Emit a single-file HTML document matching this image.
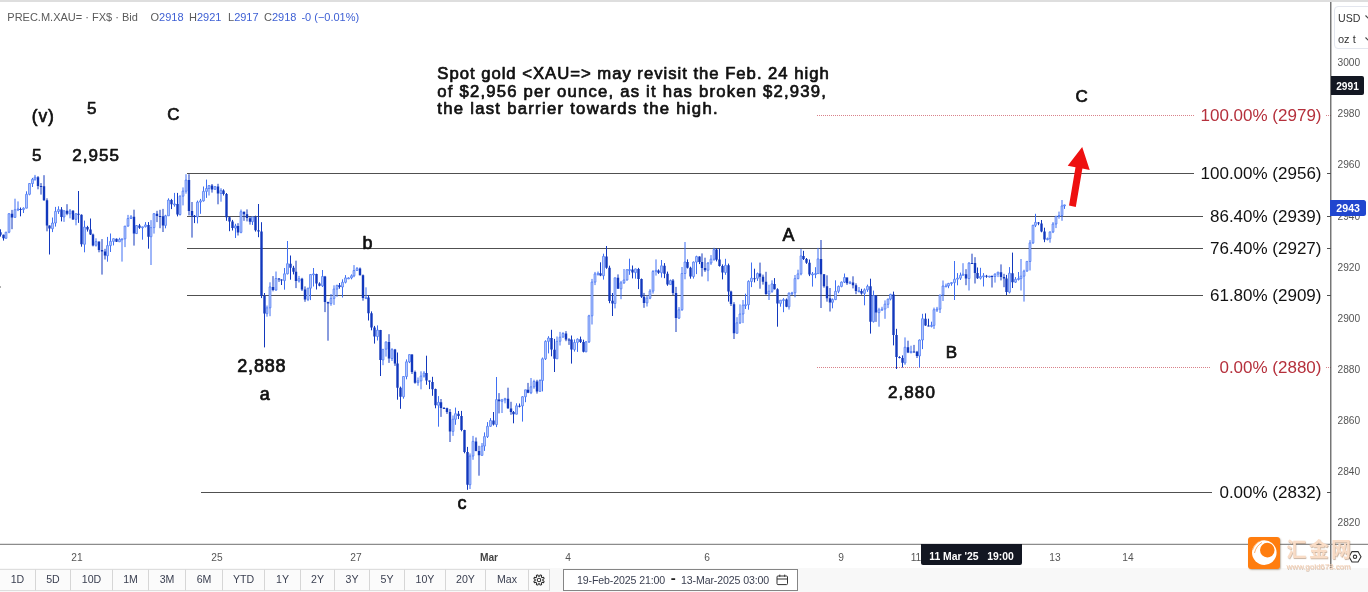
<!DOCTYPE html>
<html><head><meta charset="utf-8"><title>Spot gold chart</title>
<style>
html,body{margin:0;padding:0;background:#fff;}
body{width:1368px;height:592px;position:relative;overflow:hidden;font-family:"Liberation Sans", "DejaVu Sans", sans-serif;}
.abs{position:absolute;white-space:nowrap;}
#topbar{left:0;top:0;width:1368px;height:2px;background:#dedede;}
.hd{top:10px;font-size:11px;color:#5a5a5a;line-height:14px;}
.hd b{font-weight:normal;color:#3d5fd4;}
.fib{font-size:17px;color:#111;line-height:22px;text-align:right;right:46.5px;}
.fib.red{color:#b5303c;}
.px{font-size:10.2px;color:#555;left:1337.5px;line-height:14px;}
.tx{top:550.7px;font-size:10.2px;color:#555;line-height:14px;transform:translateX(-50%);}
#bbar{left:0;top:568px;width:1368px;height:24px;background:#f8f8f8;}
.btn{top:569px;height:22px;line-height:18.8px;font-size:10.6px;color:#3c4152;text-align:center;border-right:1px solid #d6d6d6;border-top:1px solid #dedede;border-bottom:1px solid #dedede;background:#fbfbfb;box-sizing:border-box;}
</style></head><body>
<div class="abs" id="topbar"></div>
<div class="abs" style="left:0;top:286px;width:1px;height:2px;background:#b0b0b0;"></div>
<div class="abs hd" style="left:7.3px;">PREC.M.XAU= · FX$ · Bid</div>
<div class="abs hd" style="left:150.5px;">O<b>2918</b></div>
<div class="abs hd" style="left:189px;">H<b>2921</b></div>
<div class="abs hd" style="left:228px;">L<b>2917</b></div>
<div class="abs hd" style="left:264px;">C<b>2918</b></div>
<div class="abs hd" style="left:301.4px;"><b>-0 (−0.01%)</b></div>

<svg class="abs" style="left:0;top:0" width="1368" height="592" viewBox="0 0 1368 592">
<line x1="187" y1="173.5" x2="1194" y2="173.5" stroke="#505050" stroke-width="1"/><line x1="187" y1="216.5" x2="1203" y2="216.5" stroke="#505050" stroke-width="1"/><line x1="187" y1="248.5" x2="1203" y2="248.5" stroke="#505050" stroke-width="1"/><line x1="187" y1="295.5" x2="1203" y2="295.5" stroke="#505050" stroke-width="1"/><line x1="201" y1="492.5" x2="1212" y2="492.5" stroke="#505050" stroke-width="1"/><line x1="817" y1="115.5" x2="1194" y2="115.5" stroke="#d9828a" stroke-width="1" stroke-dasharray="1 1"/><line x1="817" y1="367.5" x2="1211" y2="367.5" stroke="#d9828a" stroke-width="1" stroke-dasharray="1 1"/><line x1="1327" y1="173.5" x2="1331" y2="173.5" stroke="#505050" stroke-width="1"/><line x1="1327" y1="216.5" x2="1331" y2="216.5" stroke="#505050" stroke-width="1"/><line x1="1327" y1="248.5" x2="1331" y2="248.5" stroke="#505050" stroke-width="1"/><line x1="1327" y1="295.5" x2="1331" y2="295.5" stroke="#505050" stroke-width="1"/><line x1="1327" y1="492.5" x2="1331" y2="492.5" stroke="#505050" stroke-width="1"/><line x1="1326" y1="115.5" x2="1331" y2="115.5" stroke="#d9828a" stroke-width="1" stroke-dasharray="1 1"/><line x1="1326" y1="367.5" x2="1331" y2="367.5" stroke="#d9828a" stroke-width="1" stroke-dasharray="1 1"/><path d="M6.0 231.9V232.2M6.0 238.3V238.7M9.0 213.2V213.7M9.0 232.2V233.2M15.0 198.7V209.7M15.0 217.4V217.6M18.0 201.4V208.9M18.0 209.7V211.1M23.5 207.4V208.2M23.5 209.6V213.0M26.5 191.3V194.3M26.5 208.2V208.4M29.5 183.3V183.5M29.5 194.3V195.3M32.5 177.9V179.3M32.5 183.5V187.0M35.0 174.9V177.2M35.0 179.3V180.7M52.5 217.5V223.0M52.5 228.7V232.1M55.5 206.9V211.4M55.5 223.0V226.6M58.5 206.3V209.6M58.5 211.4V213.9M64.0 210.5V210.7M64.0 217.1V221.9M70.0 209.0V210.8M70.0 213.9V218.3M76.0 213.4V213.7M76.0 219.4V225.3M84.5 220.6V227.1M84.5 244.3V252.3M96.0 238.3V241.6M96.0 245.4V246.6M107.5 236.9V245.6M107.5 255.6V261.7M110.5 233.5V241.4M110.5 245.6V252.0M113.5 238.3V238.7M113.5 241.4V245.4M119.5 237.8V239.4M119.5 241.8V242.0M122.0 238.8V238.8M122.0 239.4V261.6M125.0 226.0V226.1M125.0 238.8V247.1M128.0 214.9V218.5M128.0 226.1V226.7M131.0 215.1V216.8M131.0 218.5V219.0M136.5 225.2V225.5M136.5 233.6V234.0M142.5 226.7V226.8M142.5 227.7V239.7M145.5 222.1V224.9M145.5 226.8V227.4M151.0 220.1V227.6M151.0 236.7V265.0M154.0 213.0V213.7M154.0 227.6V233.6M165.5 214.8V215.8M165.5 225.4V228.3M168.5 198.3V200.0M168.5 215.8V215.9M174.5 192.9V203.9M174.5 204.3V206.7M180.0 195.3V196.2M180.0 214.5V215.6M183.0 187.4V191.1M183.0 196.2V205.4M186.0 174.2V180.1M186.0 191.1V193.7M197.5 200.6V202.1M197.5 216.9V223.4M200.5 198.9V200.8M200.5 202.1V213.8M203.5 186.5V191.4M203.5 200.8V201.6M206.5 179.6V188.5M206.5 191.4V197.9M209.0 185.0V185.6M209.0 188.5V195.5M215.0 186.1V186.6M215.0 189.5V189.5M221.0 188.2V190.4M221.0 193.5V201.7M235.5 223.8V225.9M235.5 228.0V238.0M241.0 209.5V211.7M241.0 232.5V233.3M252.5 216.4V216.8M252.5 221.7V225.0M267.0 305.5V307.8M267.0 313.7V316.7M270.0 282.3V286.9M270.0 307.8V316.2M276.0 271.5V278.5M276.0 290.1V290.7M284.5 268.0V273.8M284.5 280.6V289.7M287.5 241.0V263.7M287.5 273.8V274.4M299.0 275.9V278.7M299.0 280.9V282.6M308.0 288.1V288.1M308.0 299.5V301.1M310.5 274.2V274.5M310.5 288.1V300.1M313.5 268.0V273.9M313.5 274.5V286.5M322.5 270.0V276.5M322.5 285.8V287.0M331.0 294.0V298.4M331.0 303.6V305.8M334.0 285.3V289.1M334.0 298.4V304.9M337.0 284.9V285.3M337.0 289.1V296.8M342.5 279.3V282.3M342.5 287.0V297.5M345.5 275.1V277.9M345.5 282.3V283.4M348.5 277.4V277.9M348.5 277.9V278.6M351.5 274.4V275.8M351.5 277.9V279.3M354.0 265.1V270.5M354.0 275.8V277.2M357.0 267.0V268.6M357.0 270.5V270.6M366.0 287.3V297.6M366.0 298.1V298.5M377.5 325.4V330.1M377.5 336.4V340.5M383.0 349.0V349.3M383.0 359.8V365.2M386.0 341.6V341.9M386.0 349.3V356.6M392.0 348.2V349.6M392.0 358.5V361.0M403.5 376.5V376.5M403.5 396.8V398.7M406.5 359.4V361.8M406.5 376.5V379.3M409.5 354.5V354.6M409.5 361.8V363.1M418.0 377.5V380.8M418.0 382.7V385.7M421.0 371.3V376.1M421.0 380.8V389.3M424.0 371.2V373.1M424.0 376.1V377.6M438.5 396.1V402.3M438.5 405.4V426.7M453.0 415.5V419.3M453.0 431.4V435.9M455.5 407.6V413.7M455.5 419.3V424.8M470.0 453.4V456.0M470.0 484.6V489.0M473.0 435.9V441.4M473.0 456.0V459.8M482.0 443.0V446.2M482.0 455.4V455.4M484.5 432.4V436.6M484.5 446.2V450.9M487.5 422.1V426.3M487.5 436.6V438.0M490.5 418.1V420.5M490.5 426.3V426.8M496.5 377.0V399.6M496.5 424.7V427.1M502.0 398.9V399.8M502.0 401.4V413.0M505.0 397.8V398.7M505.0 399.8V403.3M516.5 403.3V405.8M516.5 414.2V414.3M522.5 396.1V396.7M522.5 405.9V421.6M525.5 389.8V389.8M525.5 396.7V402.2M531.0 378.0V386.8M531.0 392.7V394.1M534.0 379.7V381.5M534.0 386.8V388.8M540.0 379.3V380.5M540.0 391.4V391.6M542.5 357.5V358.8M542.5 380.5V391.4M545.5 340.3V341.4M545.5 358.8V360.0M548.5 336.2V338.0M548.5 341.4V353.4M557.0 336.5V341.4M557.0 358.7V358.9M560.0 331.9V337.2M560.0 341.4V345.5M563.0 332.2V333.5M563.0 337.2V337.4M574.5 339.4V342.5M574.5 349.6V351.6M577.5 338.4V339.2M577.5 342.5V351.9M586.0 341.0V341.8M586.0 351.8V352.2M589.0 314.8V315.8M589.0 341.8V343.0M592.0 278.9V282.1M592.0 315.8V324.5M595.0 271.9V273.9M595.0 282.1V285.1M598.0 271.5V273.3M598.0 273.9V275.6M603.5 253.7V256.4M603.5 275.6V279.6M615.0 277.7V277.8M615.0 303.5V308.4M621.0 280.9V282.8M621.0 288.7V299.2M624.0 269.0V280.0M624.0 282.8V283.9M627.0 269.2V269.7M627.0 280.0V280.6M629.5 258.7V269.5M629.5 269.7V274.8M635.5 268.7V268.9M635.5 272.6V278.7M647.0 295.3V298.1M647.0 303.0V306.5M650.0 289.2V291.1M650.0 298.1V299.2M653.0 270.1V271.5M653.0 291.1V293.6M656.0 259.4V270.4M656.0 271.5V275.6M661.5 260.0V265.8M661.5 272.7V277.6M670.5 279.6V280.6M670.5 284.6V284.7M679.0 307.1V309.8M679.0 318.1V319.0M682.0 267.0V273.5M682.0 309.8V310.8M685.0 242.0V262.0M685.0 273.5V279.3M693.5 261.5V262.1M693.5 276.6V278.6M696.5 255.7V256.6M696.5 262.1V274.1M708.0 262.2V263.0M708.0 270.3V281.3M711.0 255.1V259.2M711.0 263.0V264.9M714.0 247.8V249.6M714.0 259.2V260.8M725.5 258.8V265.3M725.5 272.5V274.8M737.0 317.2V322.8M737.0 333.3V333.4M740.0 304.4V314.0M740.0 322.8V324.0M743.0 300.0V305.2M743.0 314.0V323.1M745.5 293.7V304.7M745.5 305.2V309.0M748.5 280.3V281.4M748.5 304.7V309.7M751.5 262.5V278.2M751.5 281.4V287.1M757.5 272.6V273.6M757.5 278.3V280.9M769.0 284.7V291.2M769.0 294.1V300.0M772.0 280.3V283.9M772.0 291.2V292.8M780.5 300.1V300.2M780.5 303.5V306.7M783.5 298.1V299.6M783.5 300.2V312.2M789.0 292.7V293.0M789.0 306.9V309.6M792.0 291.8V292.8M792.0 293.0V295.2M795.0 275.0V278.6M795.0 292.8V297.3M798.0 269.7V273.9M798.0 278.6V279.2M801.0 248.9V255.9M801.0 273.9V275.3M812.5 272.0V273.9M812.5 274.6V286.6M815.5 267.2V273.5M815.5 273.9V278.2M818.0 247.9V258.9M818.0 273.5V273.9M832.5 298.5V299.6M832.5 302.3V308.3M835.5 280.3V291.3M835.5 299.6V300.1M838.5 285.5V286.4M838.5 291.3V293.2M841.5 281.5V282.1M841.5 286.4V287.3M844.5 273.5V277.5M844.5 282.1V283.0M850.0 280.9V282.4M850.0 283.3V284.2M859.0 287.0V290.9M859.0 291.0V291.4M864.5 288.4V289.8M864.5 293.3V305.3M867.5 284.6V286.3M867.5 289.8V291.9M873.5 290.6V295.6M873.5 321.6V322.5M879.0 307.8V309.8M879.0 312.6V326.7M882.0 306.8V309.2M882.0 309.8V310.5M885.0 300.4V304.2M885.0 309.2V318.8M888.0 298.7V299.1M888.0 304.2V308.1M890.5 293.8V294.4M890.5 299.1V300.4M905.0 337.4V347.3M905.0 362.8V364.8M911.0 345.7V351.6M911.0 352.4V353.4M919.5 339.5V340.0M919.5 355.9V367.5M922.5 313.8V318.7M922.5 340.0V349.1M931.5 321.7V325.4M931.5 325.9V327.4M934.0 307.6V309.7M934.0 325.4V328.9M937.0 306.9V309.1M937.0 309.7V312.0M940.0 294.9V295.0M940.0 309.1V313.0M943.0 280.5V286.0M943.0 295.0V301.0M946.0 283.6V285.9M946.0 286.0V286.8M948.5 282.9V283.4M948.5 285.9V288.2M951.5 282.2V282.6M951.5 283.4V285.7M954.5 261.0V279.3M954.5 282.6V300.0M957.5 273.1V278.1M957.5 279.3V285.3M960.5 272.6V275.3M960.5 278.1V280.0M963.0 263.2V274.2M963.0 275.3V275.9M969.0 262.2V263.1M969.0 278.5V290.5M980.5 267.8V276.4M980.5 278.2V279.5M983.5 273.1V275.8M983.5 276.4V286.5M989.5 276.0V276.1M989.5 276.5V277.3M995.0 273.4V274.1M995.0 276.5V282.6M998.0 271.8V272.2M998.0 274.1V277.1M1009.5 267.1V273.2M1009.5 292.2V293.4M1015.5 277.1V279.3M1015.5 282.2V283.0M1018.5 272.0V278.5M1018.5 279.3V280.5M1021.0 259.0V276.2M1021.0 278.5V290.5M1024.0 269.7V271.2M1024.0 276.2V301.6M1027.0 261.3V261.4M1027.0 271.2V271.8M1030.0 240.1V242.9M1030.0 261.4V270.5M1033.0 224.8V225.3M1033.0 242.9V243.9M1035.5 213.8V222.4M1035.5 225.3V227.1M1047.5 237.6V238.6M1047.5 239.6V240.3M1050.0 231.5V231.9M1050.0 238.6V242.7M1053.0 222.1V224.0M1053.0 231.9V233.1M1056.0 216.3V216.3M1056.0 224.0V228.1M1059.0 211.6V215.5M1059.0 216.3V218.7M1062.0 200.0V205.9M1062.0 215.5V220.8M1064.5 204.7V204.9M1064.5 205.9V208.9" stroke="#3f6ff3" stroke-width="1" fill="none"/>
<path d="M5.1 232.2h1.8v6.1h-1.8zM8.1 213.7h1.8v18.5h-1.8zM14.1 209.7h1.8v7.7h-1.8zM17.1 208.9h1.8v1.0h-1.8zM22.6 208.2h1.8v1.4h-1.8zM25.6 194.3h1.8v13.9h-1.8zM28.6 183.5h1.8v10.8h-1.8zM31.6 179.3h1.8v4.2h-1.8zM34.1 177.2h1.8v2.1h-1.8zM51.6 223.0h1.8v5.7h-1.8zM54.6 211.4h1.8v11.6h-1.8zM57.6 209.6h1.8v1.9h-1.8zM63.1 210.7h1.8v6.3h-1.8zM69.1 210.8h1.8v3.0h-1.8zM75.1 213.7h1.8v5.7h-1.8zM83.6 227.1h1.8v17.2h-1.8zM95.1 241.6h1.8v3.7h-1.8zM106.6 245.6h1.8v10.1h-1.8zM109.6 241.4h1.8v4.2h-1.8zM112.6 238.7h1.8v2.7h-1.8zM118.6 239.4h1.8v2.4h-1.8zM121.1 238.8h1.8v1.0h-1.8zM124.1 226.1h1.8v12.7h-1.8zM127.1 218.5h1.8v7.6h-1.8zM130.1 216.8h1.8v1.7h-1.8zM135.6 225.5h1.8v8.1h-1.8zM141.6 226.8h1.8v1.0h-1.8zM144.6 224.9h1.8v1.8h-1.8zM150.1 227.6h1.8v9.1h-1.8zM153.1 213.7h1.8v13.9h-1.8zM164.6 215.8h1.8v9.6h-1.8zM167.6 200.0h1.8v15.8h-1.8zM173.6 203.9h1.8v1.0h-1.8zM179.1 196.2h1.8v18.3h-1.8zM182.1 191.1h1.8v5.1h-1.8zM185.1 180.1h1.8v11.1h-1.8zM196.6 202.1h1.8v14.8h-1.8zM199.6 200.8h1.8v1.3h-1.8zM202.6 191.4h1.8v9.5h-1.8zM205.6 188.5h1.8v2.9h-1.8zM208.1 185.6h1.8v2.9h-1.8zM214.1 186.6h1.8v2.8h-1.8zM220.1 190.4h1.8v3.1h-1.8zM234.6 225.9h1.8v2.2h-1.8zM240.1 211.7h1.8v20.7h-1.8zM251.6 216.8h1.8v4.9h-1.8zM266.1 307.8h1.8v5.8h-1.8zM269.1 286.9h1.8v20.9h-1.8zM275.1 278.5h1.8v11.6h-1.8zM283.6 273.8h1.8v6.8h-1.8zM286.6 263.7h1.8v10.1h-1.8zM298.1 278.7h1.8v2.3h-1.8zM307.1 288.1h1.8v11.3h-1.8zM309.6 274.5h1.8v13.7h-1.8zM312.6 273.9h1.8v1.0h-1.8zM321.6 276.5h1.8v9.3h-1.8zM330.1 298.4h1.8v5.2h-1.8zM333.1 289.1h1.8v9.3h-1.8zM336.1 285.3h1.8v3.8h-1.8zM341.6 282.3h1.8v4.7h-1.8zM344.6 277.9h1.8v4.4h-1.8zM347.6 277.9h1.8v1.0h-1.8zM350.6 275.8h1.8v2.1h-1.8zM353.1 270.5h1.8v5.3h-1.8zM356.1 268.6h1.8v1.9h-1.8zM365.1 297.6h1.8v1.0h-1.8zM376.6 330.1h1.8v6.4h-1.8zM382.1 349.3h1.8v10.6h-1.8zM385.1 341.9h1.8v7.3h-1.8zM391.1 349.6h1.8v8.9h-1.8zM402.6 376.5h1.8v20.2h-1.8zM405.6 361.8h1.8v14.7h-1.8zM408.6 354.6h1.8v7.3h-1.8zM417.1 380.8h1.8v1.8h-1.8zM420.1 376.1h1.8v4.8h-1.8zM423.1 373.1h1.8v3.0h-1.8zM437.6 402.3h1.8v3.0h-1.8zM452.1 419.3h1.8v12.1h-1.8zM454.6 413.7h1.8v5.6h-1.8zM469.1 456.0h1.8v28.7h-1.8zM472.1 441.4h1.8v14.6h-1.8zM481.1 446.2h1.8v9.2h-1.8zM483.6 436.6h1.8v9.5h-1.8zM486.6 426.3h1.8v10.3h-1.8zM489.6 420.5h1.8v5.8h-1.8zM495.6 399.6h1.8v25.0h-1.8zM501.1 399.8h1.8v1.6h-1.8zM504.1 398.7h1.8v1.1h-1.8zM515.6 405.8h1.8v8.4h-1.8zM521.6 396.7h1.8v9.2h-1.8zM524.6 389.8h1.8v6.9h-1.8zM530.1 386.8h1.8v5.9h-1.8zM533.1 381.5h1.8v5.3h-1.8zM539.1 380.5h1.8v10.9h-1.8zM541.6 358.8h1.8v21.7h-1.8zM544.6 341.4h1.8v17.4h-1.8zM547.6 338.0h1.8v3.4h-1.8zM556.1 341.4h1.8v17.4h-1.8zM559.1 337.2h1.8v4.1h-1.8zM562.1 333.5h1.8v3.7h-1.8zM573.6 342.5h1.8v7.1h-1.8zM576.6 339.2h1.8v3.2h-1.8zM585.1 341.8h1.8v10.0h-1.8zM588.1 315.8h1.8v26.0h-1.8zM591.1 282.1h1.8v33.7h-1.8zM594.1 273.9h1.8v8.2h-1.8zM597.1 273.3h1.8v1.0h-1.8zM602.6 256.4h1.8v19.3h-1.8zM614.1 277.8h1.8v25.7h-1.8zM620.1 282.8h1.8v6.0h-1.8zM623.1 280.0h1.8v2.8h-1.8zM626.1 269.7h1.8v10.3h-1.8zM628.6 269.5h1.8v1.0h-1.8zM634.6 268.9h1.8v3.7h-1.8zM646.1 298.1h1.8v4.8h-1.8zM649.1 291.1h1.8v7.1h-1.8zM652.1 271.5h1.8v19.6h-1.8zM655.1 270.4h1.8v1.0h-1.8zM660.6 265.8h1.8v7.0h-1.8zM669.6 280.6h1.8v4.0h-1.8zM678.1 309.8h1.8v8.3h-1.8zM681.1 273.5h1.8v36.2h-1.8zM684.1 262.0h1.8v11.5h-1.8zM692.6 262.1h1.8v14.4h-1.8zM695.6 256.6h1.8v5.5h-1.8zM707.1 263.0h1.8v7.3h-1.8zM710.1 259.2h1.8v3.8h-1.8zM713.1 249.6h1.8v9.7h-1.8zM724.6 265.3h1.8v7.2h-1.8zM736.1 322.8h1.8v10.5h-1.8zM739.1 314.0h1.8v8.8h-1.8zM742.1 305.2h1.8v8.8h-1.8zM744.6 304.7h1.8v1.0h-1.8zM747.6 281.4h1.8v23.3h-1.8zM750.6 278.2h1.8v3.3h-1.8zM756.6 273.6h1.8v4.7h-1.8zM768.1 291.2h1.8v2.9h-1.8zM771.1 283.9h1.8v7.4h-1.8zM779.6 300.2h1.8v3.2h-1.8zM782.6 299.6h1.8v1.0h-1.8zM788.1 293.0h1.8v13.8h-1.8zM791.1 292.8h1.8v1.0h-1.8zM794.1 278.6h1.8v14.2h-1.8zM797.1 273.9h1.8v4.8h-1.8zM800.1 255.9h1.8v18.0h-1.8zM811.6 273.9h1.8v1.0h-1.8zM814.6 273.5h1.8v1.0h-1.8zM817.1 258.9h1.8v14.7h-1.8zM831.6 299.6h1.8v2.7h-1.8zM834.6 291.3h1.8v8.3h-1.8zM837.6 286.4h1.8v4.9h-1.8zM840.6 282.1h1.8v4.3h-1.8zM843.6 277.5h1.8v4.6h-1.8zM849.1 282.4h1.8v1.0h-1.8zM858.1 290.9h1.8v1.0h-1.8zM863.6 289.8h1.8v3.6h-1.8zM866.6 286.3h1.8v3.5h-1.8zM872.6 295.6h1.8v26.1h-1.8zM878.1 309.8h1.8v2.8h-1.8zM881.1 309.2h1.8v1.0h-1.8zM884.1 304.2h1.8v4.9h-1.8zM887.1 299.1h1.8v5.2h-1.8zM889.6 294.4h1.8v4.7h-1.8zM904.1 347.3h1.8v15.6h-1.8zM910.1 351.6h1.8v1.0h-1.8zM918.6 340.0h1.8v15.9h-1.8zM921.6 318.7h1.8v21.3h-1.8zM930.6 325.4h1.8v1.0h-1.8zM933.1 309.7h1.8v15.7h-1.8zM936.1 309.1h1.8v1.0h-1.8zM939.1 295.0h1.8v14.1h-1.8zM942.1 286.0h1.8v9.0h-1.8zM945.1 285.9h1.8v1.0h-1.8zM947.6 283.4h1.8v2.5h-1.8zM950.6 282.6h1.8v1.0h-1.8zM953.6 279.3h1.8v3.3h-1.8zM956.6 278.1h1.8v1.1h-1.8zM959.6 275.3h1.8v2.9h-1.8zM962.1 274.2h1.8v1.0h-1.8zM968.1 263.1h1.8v15.4h-1.8zM979.6 276.4h1.8v1.8h-1.8zM982.6 275.8h1.8v1.0h-1.8zM988.6 276.1h1.8v1.0h-1.8zM994.1 274.1h1.8v2.4h-1.8zM997.1 272.2h1.8v1.9h-1.8zM1008.6 273.2h1.8v19.0h-1.8zM1014.6 279.3h1.8v2.9h-1.8zM1017.6 278.5h1.8v1.0h-1.8zM1020.1 276.2h1.8v2.4h-1.8zM1023.1 271.2h1.8v5.0h-1.8zM1026.1 261.4h1.8v9.7h-1.8zM1029.1 242.9h1.8v18.6h-1.8zM1032.1 225.3h1.8v17.6h-1.8zM1034.6 222.4h1.8v2.9h-1.8zM1046.6 238.6h1.8v1.0h-1.8zM1049.1 231.9h1.8v6.7h-1.8zM1052.1 224.0h1.8v7.9h-1.8zM1055.1 216.3h1.8v7.7h-1.8zM1058.1 215.5h1.8v1.0h-1.8zM1061.1 205.9h1.8v9.6h-1.8zM1063.6 204.9h1.8v1.0h-1.8z" stroke="#3f6ff3" stroke-width="0.75" fill="#c4d3fd"/>
<path d="M0.5 229.3V236.6M3.5 234.6V240.6M12.0 209.9V229.2M20.5 207.5V216.3M38.0 176.1V189.3M41.0 183.1V194.6M44.0 175.2V200.8M47.0 198.3V231.3M49.5 225.5V254.5M61.5 207.1V221.4M67.0 204.2V215.2M73.0 210.1V219.9M78.5 191.0V222.9M81.5 214.4V246.7M87.5 225.8V231.6M90.5 218.5V235.0M93.0 233.6V246.4M99.0 241.6V252.3M102.0 239.1V274.6M105.0 248.8V259.5M116.5 238.5V242.0M134.0 209.7V245.6M139.5 223.9V228.9M148.5 222.1V248.7M157.0 210.8V222.1M160.0 209.8V228.2M163.0 208.9V232.0M171.5 198.9V209.1M177.5 192.9V216.4M189.0 174.2V215.4M192.0 202.0V237.6M194.5 215.0V223.1M212.0 184.0V192.6M218.0 183.8V204.3M223.5 189.3V195.5M226.5 193.0V220.8M229.5 216.7V231.2M232.5 219.9V230.5M238.0 223.2V235.5M244.0 211.7V220.8M247.0 209.4V221.4M250.0 216.7V224.6M255.5 215.7V231.6M258.5 204.0V237.2M261.5 222.2V298.1M264.5 293.0V347.4M273.0 276.1V291.3M279.0 278.0V281.9M281.5 279.3V285.0M290.5 255.5V279.7M293.5 265.8V274.4M296.0 260.7V288.1M302.0 277.8V291.0M305.0 286.4V301.8M316.5 273.7V289.5M319.5 282.3V286.3M325.0 275.9V312.1M328.0 301.7V340.7M339.5 283.0V288.7M360.0 267.5V275.4M363.0 274.5V300.7M368.5 295.0V320.5M371.5 311.4V330.3M374.5 325.9V343.6M380.5 329.9V376.0M389.0 334.2V362.9M395.0 348.9V365.9M397.5 352.5V399.7M400.5 386.6V408.8M412.0 354.2V374.0M415.0 370.6V383.7M426.5 355.7V384.8M429.5 380.5V389.1M432.5 376.8V395.8M435.5 388.6V408.3M441.0 399.0V416.9M444.0 407.0V408.4M447.0 407.7V413.9M450.0 409.0V442.0M458.5 411.0V419.1M461.5 410.9V431.3M464.5 429.8V453.3M467.5 446.9V489.8M476.0 437.5V451.3M479.0 445.8V475.7M493.5 412.0V425.5M499.0 393.1V413.4M508.0 387.7V408.9M511.0 401.8V414.8M513.5 411.0V423.3M519.5 403.5V407.4M528.0 382.9V393.2M537.0 379.8V393.6M551.5 329.8V356.3M554.5 338.9V372.0M566.0 331.1V341.2M569.0 338.2V344.9M571.5 335.5V363.6M580.5 336.6V343.0M583.5 339.7V352.4M600.5 262.3V276.2M606.5 246.0V268.8M609.5 265.7V303.2M612.5 293.0V316.0M618.0 274.4V288.7M632.5 265.5V278.4M638.5 267.9V289.1M641.5 278.5V297.9M644.0 292.9V307.8M658.5 269.4V273.9M664.5 263.1V278.2M667.5 271.6V285.8M673.0 279.0V295.1M676.0 286.9V332.0M687.5 259.4V268.5M690.5 266.7V278.7M699.5 256.4V264.1M702.0 253.4V276.5M705.0 257.7V271.9M716.5 248.3V261.4M719.5 248.6V266.6M722.5 264.4V279.4M728.5 263.6V301.6M731.0 290.7V306.0M734.0 302.2V339.0M754.5 268.7V282.4M760.0 262.6V288.7M763.0 274.6V284.6M766.0 271.8V294.9M774.5 278.1V289.5M777.5 288.3V326.7M786.5 298.5V307.2M803.5 250.8V260.0M806.5 258.0V263.9M809.5 259.5V276.1M821.0 240.0V308.0M824.0 274.1V287.7M827.0 275.3V301.7M830.0 288.0V311.5M847.0 277.5V284.9M853.0 276.3V288.4M856.0 283.3V294.2M861.5 288.8V294.7M870.5 278.7V333.6M876.0 295.5V321.9M893.5 291.6V345.4M896.5 328.8V369.0M899.5 356.2V358.4M902.5 355.4V367.5M908.0 340.7V353.1M914.0 344.9V352.6M917.0 350.9V358.0M925.5 313.4V325.8M928.5 318.7V326.4M966.0 269.2V285.2M972.0 253.7V263.8M975.0 257.2V283.5M977.5 267.5V278.9M986.5 274.9V277.8M992.0 275.4V287.5M1001.0 264.4V280.4M1004.0 273.8V287.2M1006.5 274.9V295.0M1012.5 252.6V288.0M1038.5 222.0V225.2M1041.5 220.0V232.3M1044.5 227.7V242.2" stroke="#1238bd" stroke-width="1" fill="none"/>
<path d="M-0.7 232.2h2.4v2.5h-2.4zM2.3 234.8h2.4v3.5h-2.4zM10.8 213.7h2.4v3.7h-2.4zM19.3 208.9h2.4v1.0h-2.4zM36.8 177.2h2.4v8.7h-2.4zM39.8 185.9h2.4v1.0h-2.4zM42.8 186.2h2.4v14.1h-2.4zM45.8 200.3h2.4v25.3h-2.4zM48.3 225.6h2.4v3.0h-2.4zM60.3 209.6h2.4v7.5h-2.4zM65.8 210.7h2.4v3.1h-2.4zM71.8 210.8h2.4v8.6h-2.4zM77.3 213.7h2.4v1.0h-2.4zM80.3 214.7h2.4v29.6h-2.4zM86.3 227.1h2.4v2.4h-2.4zM89.3 229.5h2.4v4.9h-2.4zM91.8 234.4h2.4v11.0h-2.4zM97.8 241.6h2.4v8.5h-2.4zM100.8 250.1h2.4v1.4h-2.4zM103.8 251.5h2.4v4.1h-2.4zM115.3 238.7h2.4v3.1h-2.4zM132.8 216.8h2.4v16.7h-2.4zM138.3 225.5h2.4v2.2h-2.4zM147.3 224.9h2.4v11.8h-2.4zM155.8 213.7h2.4v2.4h-2.4zM158.8 216.1h2.4v1.0h-2.4zM161.8 216.2h2.4v9.3h-2.4zM170.3 200.0h2.4v4.3h-2.4zM176.3 203.9h2.4v10.7h-2.4zM187.8 180.1h2.4v31.0h-2.4zM190.8 211.1h2.4v4.7h-2.4zM193.3 215.8h2.4v1.1h-2.4zM210.8 185.6h2.4v3.8h-2.4zM216.8 186.6h2.4v6.9h-2.4zM222.3 190.4h2.4v3.7h-2.4zM225.3 194.1h2.4v23.2h-2.4zM228.3 217.3h2.4v4.3h-2.4zM231.3 221.5h2.4v6.5h-2.4zM236.8 225.9h2.4v6.6h-2.4zM242.8 211.7h2.4v2.6h-2.4zM245.8 214.3h2.4v3.8h-2.4zM248.8 218.2h2.4v3.5h-2.4zM254.3 216.8h2.4v13.5h-2.4zM257.3 230.3h2.4v1.2h-2.4zM260.3 231.5h2.4v64.2h-2.4zM263.3 295.7h2.4v17.9h-2.4zM271.8 286.9h2.4v3.2h-2.4zM277.8 278.5h2.4v1.1h-2.4zM280.3 279.6h2.4v1.0h-2.4zM289.3 263.7h2.4v4.0h-2.4zM292.3 267.7h2.4v4.1h-2.4zM294.8 271.7h2.4v9.2h-2.4zM300.8 278.7h2.4v10.9h-2.4zM303.8 289.5h2.4v9.9h-2.4zM315.3 273.9h2.4v9.6h-2.4zM318.3 283.5h2.4v2.3h-2.4zM323.8 276.5h2.4v25.5h-2.4zM326.8 302.0h2.4v1.5h-2.4zM338.3 285.3h2.4v1.8h-2.4zM358.8 268.6h2.4v6.7h-2.4zM361.8 275.3h2.4v22.8h-2.4zM367.3 297.6h2.4v15.7h-2.4zM370.3 313.3h2.4v14.2h-2.4zM373.3 327.5h2.4v8.9h-2.4zM379.3 330.1h2.4v29.8h-2.4zM387.8 341.9h2.4v16.5h-2.4zM393.8 349.6h2.4v13.9h-2.4zM396.3 363.5h2.4v24.2h-2.4zM399.3 387.7h2.4v9.1h-2.4zM410.8 354.6h2.4v17.5h-2.4zM413.8 372.0h2.4v10.7h-2.4zM425.3 373.1h2.4v7.5h-2.4zM428.3 380.6h2.4v1.2h-2.4zM431.3 381.9h2.4v7.3h-2.4zM434.3 389.1h2.4v16.2h-2.4zM439.8 402.3h2.4v5.7h-2.4zM442.8 408.0h2.4v1.0h-2.4zM445.8 408.3h2.4v3.8h-2.4zM448.8 412.1h2.4v19.3h-2.4zM457.3 413.7h2.4v2.3h-2.4zM460.3 416.0h2.4v14.1h-2.4zM463.3 430.1h2.4v21.9h-2.4zM466.3 452.1h2.4v32.6h-2.4zM474.8 441.4h2.4v9.5h-2.4zM477.8 450.9h2.4v4.4h-2.4zM492.3 420.5h2.4v4.1h-2.4zM497.8 399.6h2.4v1.7h-2.4zM506.8 398.7h2.4v9.6h-2.4zM509.8 408.4h2.4v3.6h-2.4zM512.3 412.0h2.4v2.2h-2.4zM518.3 405.8h2.4v1.0h-2.4zM526.8 389.8h2.4v2.9h-2.4zM535.8 381.5h2.4v9.9h-2.4zM550.3 338.0h2.4v11.6h-2.4zM553.3 349.7h2.4v9.1h-2.4zM564.8 333.5h2.4v6.0h-2.4zM567.8 339.5h2.4v1.0h-2.4zM570.3 339.5h2.4v10.0h-2.4zM579.3 339.2h2.4v2.8h-2.4zM582.3 342.0h2.4v9.8h-2.4zM599.3 273.3h2.4v2.3h-2.4zM605.3 256.4h2.4v11.3h-2.4zM608.3 267.7h2.4v33.2h-2.4zM611.3 300.8h2.4v2.6h-2.4zM616.8 277.8h2.4v10.9h-2.4zM631.3 269.5h2.4v3.1h-2.4zM637.3 268.9h2.4v10.1h-2.4zM640.3 279.0h2.4v17.8h-2.4zM642.8 296.8h2.4v6.2h-2.4zM657.3 270.4h2.4v2.3h-2.4zM663.3 265.8h2.4v7.9h-2.4zM666.3 273.7h2.4v10.9h-2.4zM671.8 280.6h2.4v12.3h-2.4zM674.8 292.9h2.4v25.2h-2.4zM686.3 262.0h2.4v5.7h-2.4zM689.3 267.7h2.4v8.9h-2.4zM698.3 256.6h2.4v5.5h-2.4zM700.8 262.1h2.4v5.8h-2.4zM703.8 267.9h2.4v2.4h-2.4zM715.3 249.6h2.4v10.1h-2.4zM718.3 259.6h2.4v6.4h-2.4zM721.3 266.0h2.4v6.5h-2.4zM727.3 265.3h2.4v26.2h-2.4zM729.8 291.5h2.4v12.6h-2.4zM732.8 304.2h2.4v29.1h-2.4zM753.3 278.2h2.4v1.0h-2.4zM758.8 273.6h2.4v3.1h-2.4zM761.8 276.7h2.4v5.1h-2.4zM764.8 281.8h2.4v12.3h-2.4zM773.3 283.9h2.4v5.3h-2.4zM776.3 289.2h2.4v14.3h-2.4zM785.3 299.6h2.4v7.2h-2.4zM802.3 255.9h2.4v3.2h-2.4zM805.3 259.1h2.4v3.7h-2.4zM808.3 262.8h2.4v11.8h-2.4zM819.8 258.9h2.4v15.4h-2.4zM822.8 274.3h2.4v12.0h-2.4zM825.8 286.3h2.4v11.9h-2.4zM828.8 298.2h2.4v4.2h-2.4zM845.8 277.5h2.4v5.8h-2.4zM851.8 282.4h2.4v2.8h-2.4zM854.8 285.2h2.4v5.8h-2.4zM860.3 290.9h2.4v2.5h-2.4zM869.3 286.3h2.4v35.4h-2.4zM874.8 295.6h2.4v17.0h-2.4zM892.3 294.4h2.4v40.6h-2.4zM895.3 335.0h2.4v22.0h-2.4zM898.3 357.0h2.4v1.0h-2.4zM901.3 357.9h2.4v4.9h-2.4zM906.8 347.3h2.4v5.1h-2.4zM912.8 351.6h2.4v1.0h-2.4zM915.8 351.8h2.4v4.1h-2.4zM924.3 318.7h2.4v6.9h-2.4zM927.3 325.6h2.4v1.0h-2.4zM964.8 274.2h2.4v4.2h-2.4zM970.8 263.1h2.4v1.0h-2.4zM973.8 263.1h2.4v9.8h-2.4zM976.3 272.9h2.4v5.4h-2.4zM985.3 275.8h2.4v1.0h-2.4zM990.8 276.1h2.4v1.0h-2.4zM999.8 272.2h2.4v4.9h-2.4zM1002.8 277.1h2.4v1.5h-2.4zM1005.3 278.6h2.4v13.5h-2.4zM1011.3 273.2h2.4v9.1h-2.4zM1037.3 222.4h2.4v1.0h-2.4zM1040.3 223.4h2.4v8.0h-2.4zM1043.3 231.4h2.4v8.2h-2.4z" fill="#1238bd"/>
<line x1="1330.8" y1="2" x2="1330.8" y2="569" stroke="#4f4f4f" stroke-width="1.15"/>
<line x1="0" y1="544.3" x2="1368" y2="544.3" stroke="#8c8c8c" stroke-width="1.3"/>
<polygon points="1082.2,146.9 1089.7,169.9 1082.4,168.6 1075.8,207 1069,205.4 1075.5,167.3 1067.7,165.8" fill="#ee1010"/>
<g font-family='"Liberation Sans", "DejaVu Sans", sans-serif' fill="#111" stroke="#111" stroke-width="0.7" stroke-linejoin="round"><text x="437.30" y="79.00" font-size="16.7" letter-spacing="0.98">Spot gold &lt;XAU=&gt; may revisit the Feb. 24 high</text><text x="437.30" y="96.50" font-size="16.7" letter-spacing="1.2">of $2,956 per ounce, as it has broken $2,939,</text><text x="437.30" y="114.00" font-size="16.7" letter-spacing="1.27">the last barrier towards the high.</text><text x="31.70" y="121.80" font-size="17.5" letter-spacing="0.9">(v)</text><text x="86.90" y="114.00" font-size="17" letter-spacing="0">5</text><text x="167.30" y="119.60" font-size="17" letter-spacing="0">C</text><text x="32.10" y="161.20" font-size="17" letter-spacing="0">5</text><text x="72.30" y="161.20" font-size="17" letter-spacing="1.0">2,955</text><text x="237.30" y="371.90" font-size="18" letter-spacing="0.8">2,888</text><text x="259.80" y="399.60" font-size="18" letter-spacing="0">a</text><text x="362.40" y="249.40" font-size="18" letter-spacing="0">b</text><text x="457.50" y="509.10" font-size="18" letter-spacing="0">c</text><text x="782.40" y="241.00" font-size="18" letter-spacing="0">A</text><text x="945.70" y="357.80" font-size="17" letter-spacing="0">B</text><text x="887.90" y="398.10" font-size="17" letter-spacing="1.1">2,880</text><text x="1075.60" y="102.00" font-size="17" letter-spacing="0">C</text></g>
</svg>

<div class="abs fib red" style="top:104.5px;">100.00% (2979)</div><div class="abs fib" style="top:162.5px;">100.00% (2956)</div><div class="abs fib" style="top:205.5px;">86.40% (2939)</div><div class="abs fib" style="top:237.5px;">76.40% (2927)</div><div class="abs fib" style="top:284.5px;">61.80% (2909)</div><div class="abs fib red" style="top:356.5px;">0.00% (2880)</div><div class="abs fib" style="top:481.5px;">0.00% (2832)</div>

<div class="abs" style="left:1334px;top:6px;width:40px;height:43px;border:1px solid #e3e6ee;border-radius:4px;box-sizing:border-box;background:#fff;"></div>
<div class="abs" style="left:1338px;top:10.6px;font-size:10.6px;color:#333;line-height:14px;">USD</div>
<div class="abs" style="left:1338px;top:32px;font-size:11px;color:#333;line-height:14px;">oz t</div>
<svg class="abs" style="left:1362.5px;top:10px" width="8" height="40" viewBox="0 0 8 40"><path d="M2.5 5.5L5.5 8.5L8.5 5.5M2.5 27.5L5.5 30.5L8.5 27.5" stroke="#444" stroke-width="1.1" fill="none"/></svg>
<div class="abs px" style="top:56.2px;">3000</div><div class="abs px" style="top:107.3px;">2980</div><div class="abs px" style="top:158.4px;">2960</div><div class="abs px" style="top:209.5px;">2940</div><div class="abs px" style="top:260.6px;">2920</div><div class="abs px" style="top:311.7px;">2900</div><div class="abs px" style="top:362.8px;">2880</div><div class="abs px" style="top:413.9px;">2860</div><div class="abs px" style="top:465.0px;">2840</div><div class="abs px" style="top:516.0px;">2820</div>
<div class="abs" style="left:1331px;top:76px;width:33px;height:19px;background:#131722;border-radius:0 2px 2px 0;color:#fff;font-weight:bold;font-size:10.2px;line-height:21.5px;text-align:center;">2991</div>
<div class="abs" style="left:1330.4px;top:200.3px;width:35.5px;height:15.5px;background:#2046cf;border-radius:0 2.5px 2.5px 0;color:#fff;font-weight:bold;font-size:10.6px;line-height:17px;text-align:center;">2943</div>

<div class="abs tx" style="left:77px;">21</div><div class="abs tx" style="left:217px;">25</div><div class="abs tx" style="left:356px;">27</div><div class="abs tx" style="left:568px;">4</div><div class="abs tx" style="left:707px;">6</div><div class="abs tx" style="left:841px;">9</div><div class="abs tx" style="left:916px;">11</div><div class="abs tx" style="left:1055px;">13</div><div class="abs tx" style="left:1128px;">14</div>
<div class="abs tx" style="left:489px;font-weight:bold;color:#444;">Mar</div>
<div class="abs" style="left:921px;top:544px;width:101px;height:20.5px;background:#131722;color:#fff;font-weight:bold;font-size:10.4px;line-height:25px;text-align:center;border-radius:0 0 2px 2px;">11 Mar '25 &nbsp;&nbsp;19:00</div>

<div class="abs" id="bbar"></div>
<div class="abs btn" style="left:0px;width:36px;">1D</div><div class="abs btn" style="left:36px;width:35px;">5D</div><div class="abs btn" style="left:71px;width:42px;">10D</div><div class="abs btn" style="left:113px;width:36px;">1M</div><div class="abs btn" style="left:149px;width:37px;">3M</div><div class="abs btn" style="left:186px;width:37px;">6M</div><div class="abs btn" style="left:223px;width:42px;">YTD</div><div class="abs btn" style="left:265px;width:36px;">1Y</div><div class="abs btn" style="left:301px;width:34px;">2Y</div><div class="abs btn" style="left:335px;width:35px;">3Y</div><div class="abs btn" style="left:370px;width:35px;">5Y</div><div class="abs btn" style="left:405px;width:41px;">10Y</div><div class="abs btn" style="left:446px;width:40px;">20Y</div><div class="abs btn" style="left:486px;width:43px;">Max</div>
<div class="abs btn" style="left:529px;width:21px;"></div>
<svg class="abs" style="left:533.2px;top:573.5px" width="12" height="12" viewBox="0 0 12 12"><g fill="none" stroke="#2a2a2a" stroke-width="1.05" stroke-linejoin="round"><circle cx="6" cy="6" r="1.75"/><path d="M10.87 8.02L10.73 8.33L10.56 8.63L9.78 8.53L9.04 8.33L8.88 8.53L8.71 8.71L8.53 8.88L8.33 9.04L8.53 9.78L8.63 10.56L8.33 10.73L8.02 10.87L7.69 10.99L7.36 11.09L6.89 10.46L6.50 9.80L6.25 9.82L6.00 9.83L5.75 9.82L5.50 9.80L5.11 10.46L4.64 11.09L4.31 10.99L3.98 10.87L3.67 10.73L3.36 10.56L3.47 9.78L3.67 9.04L3.47 8.88L3.29 8.71L3.12 8.53L2.96 8.33L2.22 8.53L1.44 8.63L1.27 8.33L1.13 8.02L1.01 7.69L0.91 7.36L1.54 6.89L2.20 6.50L2.18 6.25L2.17 6.00L2.18 5.75L2.20 5.50L1.54 5.11L0.91 4.64L1.01 4.31L1.13 3.98L1.27 3.67L1.44 3.36L2.22 3.47L2.96 3.67L3.12 3.47L3.29 3.29L3.47 3.12L3.67 2.96L3.47 2.22L3.37 1.44L3.67 1.27L3.98 1.13L4.31 1.01L4.64 0.91L5.11 1.54L5.50 2.20L5.75 2.18L6.00 2.17L6.25 2.18L6.50 2.20L6.89 1.54L7.36 0.91L7.69 1.01L8.02 1.13L8.33 1.27L8.63 1.44L8.53 2.22L8.33 2.96L8.53 3.12L8.71 3.29L8.88 3.47L9.04 3.67L9.78 3.47L10.56 3.36L10.73 3.67L10.87 3.98L10.99 4.31L11.09 4.64L10.46 5.11L9.80 5.50L9.82 5.75L9.83 6.00L9.82 6.25L9.80 6.50L10.46 6.89L11.09 7.36L10.99 7.69Z"/></g></svg>
<div class="abs" style="left:563px;top:569px;width:234.5px;height:21.5px;border:1px solid #858585;box-sizing:border-box;background:#fff;"></div>
<div class="abs" style="left:577px;top:573px;font-size:10.6px;color:#3c4152;line-height:14px;letter-spacing:-0.12px;">19-Feb-2025 21:00</div>
<div class="abs" style="left:670.8px;top:571px;font-size:15px;color:#222;line-height:14px;font-weight:bold;">-</div>
<div class="abs" style="left:681px;top:573px;font-size:10.6px;color:#3c4152;line-height:14px;letter-spacing:-0.12px;">13-Mar-2025 03:00</div>
<svg class="abs" style="left:776px;top:574px" width="13" height="12" viewBox="0 0 13 12"><rect x="1" y="2" width="10.5" height="8.6" rx="1" fill="none" stroke="#333" stroke-width="1"/><path d="M1 5h10.5M3.8 0.6v2.2M8.7 0.6v2.2" stroke="#333" stroke-width="1" fill="none"/></svg>

<!-- settings hex icon at axis corner -->
<svg class="abs" style="left:1348px;top:550px" width="14" height="14" viewBox="0 0 14 14"><path d="M4 1.6h6l3 5.2-3 5.2H4L1 6.8z" fill="#fff" stroke="#333" stroke-width="1.1"/><circle cx="7" cy="6.8" r="1.7" fill="none" stroke="#333" stroke-width="1.1"/></svg>

<!-- watermark -->
<div class="abs" style="left:1248px;top:537px;width:32px;height:32px;background:#ff7d0f;border-radius:3px;box-shadow:1px 1px 1.5px rgba(120,90,60,.45);"></div>
<svg class="abs" style="left:1248px;top:537px" width="32" height="32" viewBox="0 0 32 32"><circle cx="16.3" cy="15.6" r="12.3" fill="#fff"/><circle cx="19.3" cy="13.1" r="7.3" fill="#ff7d0f"/><path d="M4.5 13 Q7 6 13 3.6 M6.5 16 Q8 9 14 5.5" stroke="#ff9a45" stroke-width="0.8" fill="none"/></svg>
<div class="abs" style="left:1286.5px;top:537.5px;font-family:'Liberation Sans','Noto Sans CJK SC',sans-serif;font-size:20px;line-height:24px;color:#f9dcc6;font-weight:bold;letter-spacing:2.3px;text-shadow:0.6px 0.8px 0.8px rgba(150,105,70,.5);">汇金网</div>
<div class="abs" style="left:1286.5px;top:561.5px;font-size:7.9px;line-height:9px;color:#f3cfb4;text-shadow:0.5px 0.5px 0.6px rgba(150,105,70,.4);">www.gold678.com</div>
</body></html>
